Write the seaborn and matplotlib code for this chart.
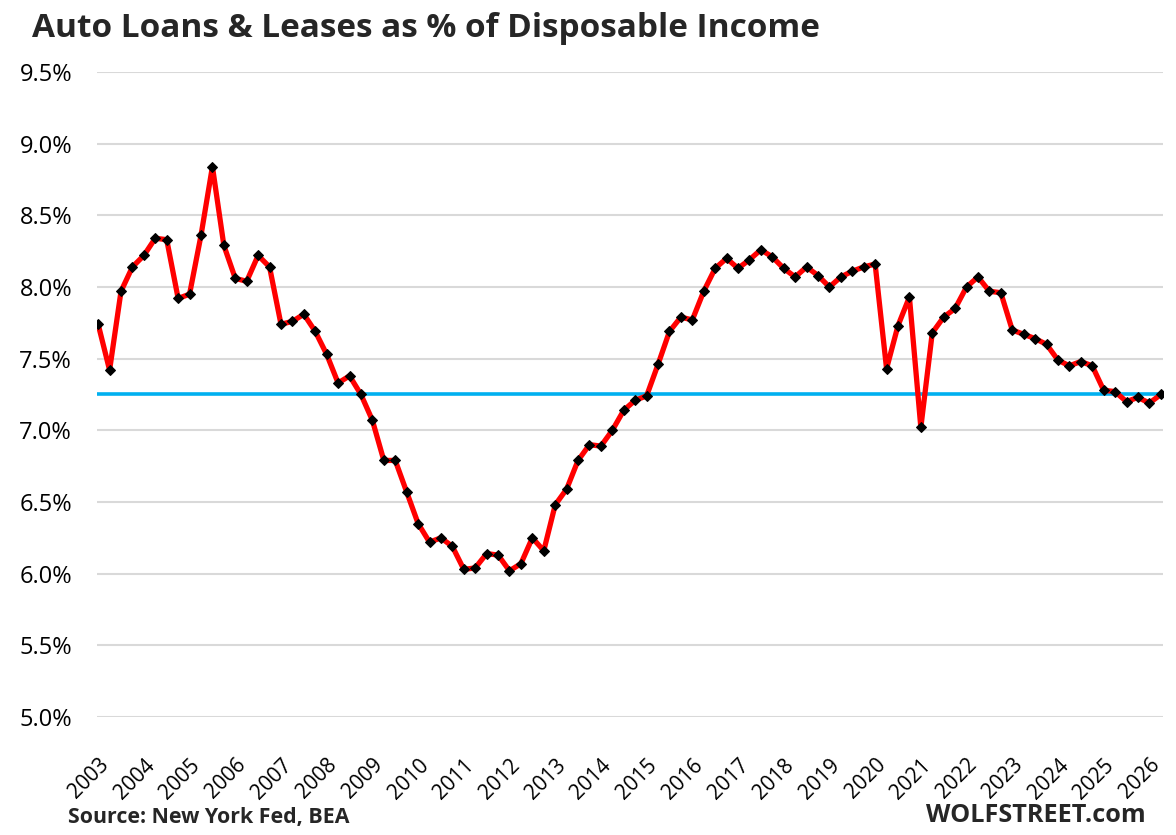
import numpy as np
import pandas as pd
import matplotlib
matplotlib.use("Agg")
import matplotlib.pyplot as plt
import seaborn as sns
from matplotlib.ticker import FuncFormatter

# Quarterly auto loans & leases as % of disposable income, 2003 Q1 onward
pct_of_income = [
    7.74, 7.42, 7.97, 8.14, 8.22, 8.34, 8.33, 7.92, 7.95, 8.36,
    8.84, 8.29, 8.06, 8.04, 8.22, 8.14, 7.74, 7.76, 7.81, 7.69,
    7.53, 7.33, 7.38, 7.25, 7.07, 6.79, 6.79, 6.57, 6.35, 6.22,
    6.25, 6.19, 6.03, 6.04, 6.14, 6.13, 6.02, 6.07, 6.25, 6.16,
    6.48, 6.59, 6.79, 6.90, 6.89, 7.00, 7.14, 7.21, 7.24, 7.46,
    7.69, 7.79, 7.77, 7.97, 8.13, 8.20, 8.13, 8.19, 8.26, 8.21,
    8.13, 8.07, 8.14, 8.08, 8.00, 8.07, 8.11, 8.14, 8.16, 7.43,
    7.73, 7.93, 7.02, 7.68, 7.79, 7.85, 8.00, 8.07, 7.97, 7.96,
    7.70, 7.67, 7.64, 7.60, 7.49, 7.45, 7.48, 7.45, 7.28, 7.27,
    7.20, 7.23, 7.19, 7.25,
]
year_labels = [str(y) for y in range(2003, 2027)]

df = pd.DataFrame({"quarter": np.arange(len(pct_of_income)), "pct": pct_of_income})

sns.set_style("white")
plt.rcParams["font.family"] = ["Open Sans", "DejaVu Sans"]

fig = plt.figure(figsize=(11.76, 8.35), dpi=100)
ax = fig.add_axes([0.0825, 0.1413, 0.9065, 0.7725])

# reference line at the latest value
ax.axhline(pct_of_income[-1], color="#00b0f0", lw=2.6, zorder=2)

sns.lineplot(data=df, x="quarter", y="pct", ax=ax, color="#ff0000", lw=3.8,
             marker="D", markersize=5.5, markerfacecolor="black",
             markeredgecolor="black", zorder=3)

ax.set_ylim(5.0, 9.5)
ax.set_yticks(np.arange(5.0, 9.51, 0.5))
ax.yaxis.set_major_formatter(FuncFormatter(lambda v, _: f"{v:.1f}%"))
ax.set_xlim(-0.1, 93.2)
ax.set_xticks(np.arange(0, 4 * len(year_labels), 4))
ax.set_xticklabels(year_labels, rotation=45, ha="right", va="top",
                   rotation_mode="anchor", fontsize=15)

ax.grid(axis="y", color="#d9d9d9", lw=1.5, zorder=0)
ax.grid(axis="x", visible=False)
for s in ax.spines.values():
    s.set_visible(False)
ax.tick_params(axis="both", length=0, colors="black")
ax.tick_params(axis="y", labelsize=17, pad=18)
ax.tick_params(axis="x", pad=27)
ax.set_xlabel("")
ax.set_ylabel("")

fig.text(0.027, 0.966, "Auto Loans & Leases as % of Disposable Income",
         fontsize=24, fontweight="bold", va="center", ha="left")
fig.text(0.058, 0.021, "Source: New York Fed, BEA",
         fontsize=15.4, fontweight="bold", va="center", ha="left")
fig.text(0.974, 0.023, "WOLFSTREET.com",
         fontsize=18.2, fontweight="bold", va="center", ha="right")

fig.savefig("out.png", dpi=100)
